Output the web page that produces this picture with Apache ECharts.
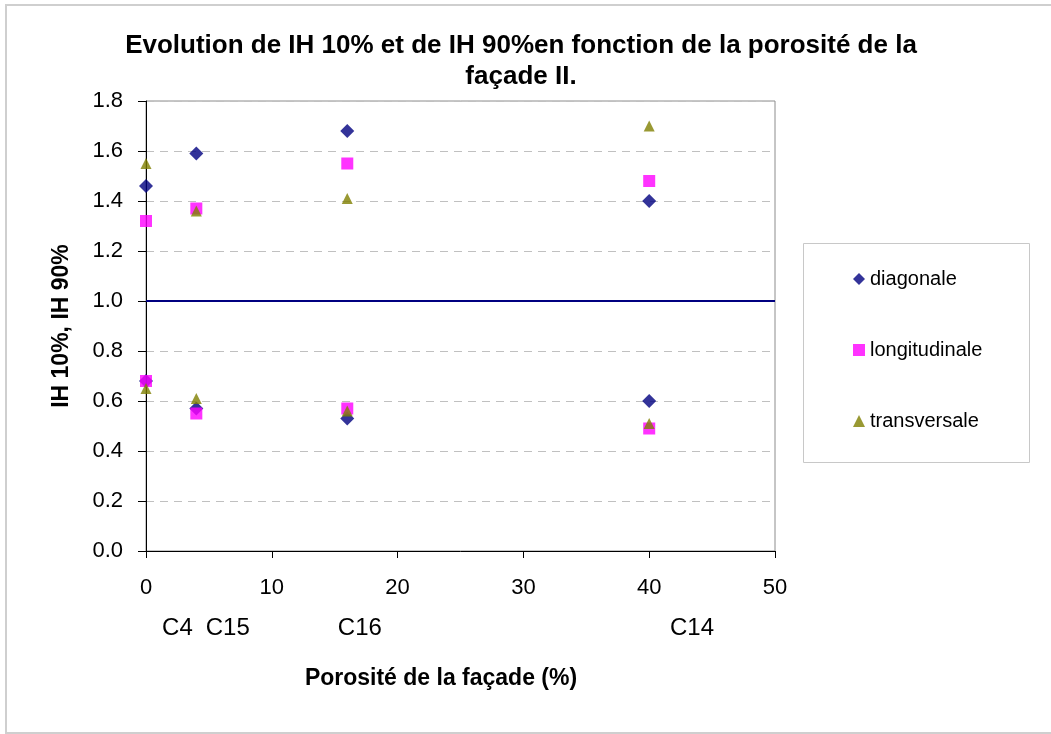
<!DOCTYPE html>
<html>
<head>
<meta charset="utf-8">
<script src="https://cdn.jsdelivr.net/npm/echarts@6/dist/echarts.min.js"></script>
<style>
html,body{margin:0;padding:0;background:#fff;}
#main{width:1051px;height:734px;}
</style>
</head>
<body>
<div id="main"></div>
<script>
// Data
const porosity = [0, 4, 16, 40];
const diagonaleHigh = [1.46, 1.59, 1.68, 1.40];
const diagonaleLow = [0.68, 0.57, 0.53, 0.60];
const longitudinaleHigh = [1.32, 1.37, 1.55, 1.48];
const longitudinaleLow = [0.68, 0.55, 0.57, 0.49];
const transversaleHigh = [1.55, 1.36, 1.41, 1.70];
const transversaleLow = [0.65, 0.61, 0.56, 0.51];
const caseLabels = ['C4', 'C15', 'C16', 'C14'];
const caseLabelX = [2.5, 6.5, 17, 43.4];
const yTicks = ['0.0','0.2','0.4','0.6','0.8','1.0','1.2','1.4','1.6','1.8'];
const referenceLevel = 1.0;

function pts(high, low) {
  const out = [];
  porosity.forEach((x, i) => { out.push([x, high[i]]); });
  porosity.forEach((x, i) => { out.push([x, low[i]]); });
  return out;
}

const FONT = '"Liberation Sans", Arial, sans-serif';
const chart = echarts.init(document.getElementById('main'), null, {renderer: 'canvas'});

const option = {
  backgroundColor: '#ffffff',
  animation: false,
  title: {
    text: 'Evolution de IH 10% et de IH 90%en fonction de la porosité de la\nfaçade II.',
    left: 516,
    top: 25,
    textAlign: 'center',
    textStyle: {fontFamily: FONT, fontSize: 26, fontWeight: 'bold', color: '#000', lineHeight: 31}
  },
  grid: {
    left: 146, top: 101, right: 276, bottom: 183,
    show: true, borderColor: '#8c8c8c', borderWidth: 1, backgroundColor: '#fff'
  },
  legend: {
    orient: 'vertical',
    left: 848,
    top: 264,
    itemGap: 51,
    itemWidth: 12,
    itemHeight: 12,
    textStyle: {fontFamily: FONT, fontSize: 20, color: '#000', lineHeight: 20},
    data: ['diagonale', 'longitudinale', 'transversale']
  },
  xAxis: {
    type: 'value', min: 0, max: 50, interval: 10,
    axisLine: {show: true, lineStyle: {color: '#000', width: 1}},
    axisTick: {show: true, length: 7, lineStyle: {color: '#000'}},
    axisLabel: {fontFamily: FONT, fontSize: 22, color: '#000', margin: 26},
    splitLine: {show: false}
  },
  yAxis: {
    type: 'value', min: 0, max: 1.8, interval: 0.2,
    name: 'IH 10%, IH 90%',
    nameLocation: 'middle',
    nameGap: 73,
    nameMoveOverlap: false,
    nameTextStyle: {fontFamily: FONT, fontSize: 23, fontWeight: 'bold', color: '#000'},
    axisLine: {show: true, lineStyle: {color: '#000', width: 1}},
    axisTick: {show: true, length: 8, lineStyle: {color: '#000'}},
    axisLabel: {
      fontFamily: FONT, fontSize: 22, color: '#000', margin: 23,
      formatter: function (v) { return yTicks[Math.round(v / 0.2)]; }
    },
    splitLine: {show: true, lineStyle: {color: '#c0c0c0', type: [8, 6], width: 1}}
  },
  series: [
    {
      name: 'diagonale', type: 'scatter', symbol: 'diamond', symbolSize: 14,
      itemStyle: {color: '#000080'},
      data: pts(diagonaleHigh, diagonaleLow),
      z: 3,
      markLine: {
        silent: true, symbol: 'none', label: {show: false},
        lineStyle: {color: '#000080', width: 2, type: 'solid'},
        data: [{yAxis: referenceLevel}]
      }
    },
    {
      name: 'longitudinale', type: 'scatter', symbol: 'rect', symbolSize: 12,
      itemStyle: {color: '#ff00ff'},
      data: pts(longitudinaleHigh, longitudinaleLow),
      z: 4
    },
    {
      name: 'transversale', type: 'scatter', symbol: 'triangle', symbolSize: 11,
      itemStyle: {color: '#808000'},
      data: pts(transversaleHigh, transversaleLow),
      z: 5
    }
  ]
};
chart.setOption(option);

// Annotations below the axis and decorative frames
const y0 = chart.convertToPixel({gridIndex: 0}, [0, 0])[1];
const graphics = [
  {type: 'rect', shape: {x: 6, y: 5, width: 1050, height: 728}, style: {fill: 'none', stroke: '#cfcfcf', lineWidth: 2}, z: -1, silent: true},
  {type: 'rect', shape: {x: 803.5, y: 243.5, width: 226, height: 219}, style: {fill: 'none', stroke: '#c8c8c8', lineWidth: 1}, silent: true},
  {type: 'text', x: 441, y: 679, style: {text: 'Porosité de la façade (%)', font: 'bold 23px ' + FONT, fill: '#000', align: 'center', verticalAlign: 'middle'}, silent: true}
];
caseLabels.forEach((t, i) => {
  const px = chart.convertToPixel({gridIndex: 0}, [caseLabelX[i], 0])[0];
  graphics.push({type: 'text', x: px, y: y0 + 77, style: {text: t, font: '24px ' + FONT, fill: '#000', align: 'center', verticalAlign: 'middle'}, silent: true});
});
chart.setOption({graphic: graphics});
</script>
</body>
</html>
